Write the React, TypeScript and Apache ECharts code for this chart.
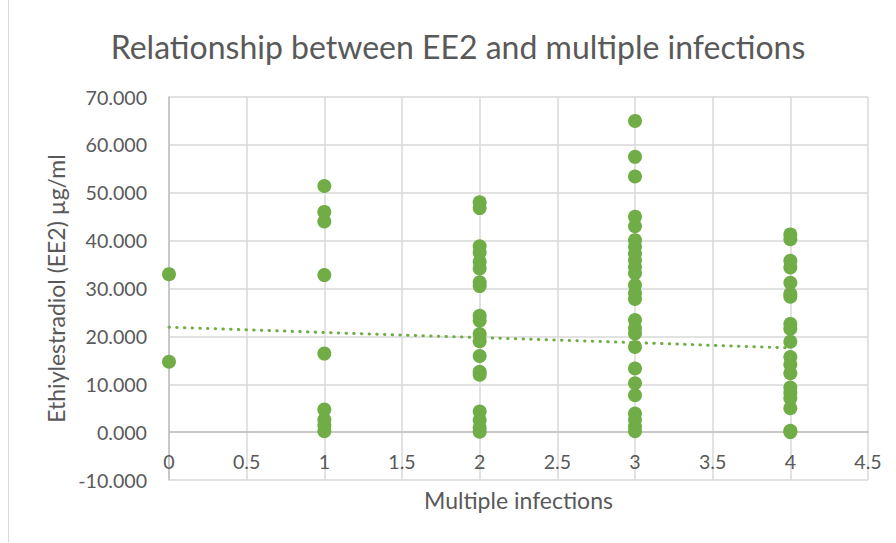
import React, { useEffect, useRef } from "react";
import * as echarts from "echarts";

const titleText = "Relationship between EE2 and multiple infections";
const xAxisName = "Multiple infections";
const yAxisName = "Ethiylestradiol (EE2) µg/ml";

const infections = [0, 1, 2, 3, 4];
const ee2At0 = [33.0, 14.7];
const ee2At1 = [51.4, 46.0, 44.0, 32.8, 16.4, 4.7, 2.6, 1.4, 0.2];
const ee2At2 = [48.0, 46.8, 38.8, 37.5, 35.6, 34.2, 31.3, 30.5, 24.3, 23.3, 20.5, 19.0, 15.9, 12.6, 12.0, 4.3, 2.5, 0.9, 0.1];
const ee2At3 = [65.0, 57.5, 53.4, 45.0, 43.0, 40.1, 38.7, 37.3, 35.9, 34.5, 33.2, 30.7, 29.0, 27.8, 23.4, 21.7, 20.6, 17.8, 13.3, 10.2, 7.7, 3.9, 2.6, 1.2, 0.2];
const ee2At4 = [41.3, 40.3, 35.8, 34.4, 31.2, 28.9, 28.3, 22.6, 21.6, 18.9, 15.7, 14.1, 12.3, 9.3, 8.2, 7.1, 5.0, 0.3, 0.0];
const ee2Groups = [ee2At0, ee2At1, ee2At2, ee2At3, ee2At4];

const trendX = [0, 4];
const trendY = [21.9, 17.6];

const GREEN = "#70AD47";
const TEXT = "#595959";
const FONT = "Lato";

export default function App() {
  const ref = useRef<HTMLDivElement>(null);
  useEffect(() => {
    if (!ref.current) return;
    const chart = echarts.init(ref.current, null, { renderer: "svg" });
    const points: number[][] = [];
    ee2Groups.forEach((g, i) => g.forEach((v) => points.push([infections[i], v])));
    const trend = trendX.map((x, i) => [x, trendY[i]]);
    chart.setOption({
      animation: false,
      backgroundColor: "#ffffff",
      textStyle: { fontFamily: FONT },
      graphic: [
        {
          type: "text",
          x: 458,
          y: 46,
          style: {
            text: titleText,
            fill: TEXT,
            font: `32px ${FONT}`,
            textAlign: "center",
            textVerticalAlign: "middle",
          },
        },
        {
          type: "line",
          shape: { x1: 8.5, y1: 0, x2: 8.5, y2: 542 },
          style: { stroke: "#d9d9d9", lineWidth: 1 },
        },
      ],
      grid: {
        left: 169,
        right: 28,
        top: 97,
        bottom: 63,
        containLabel: false,
        outerBoundsMode: "none",
      },
      xAxis: {
        type: "value",
        min: 0,
        max: 4.5,
        interval: 0.5,
        name: xAxisName,
        nameLocation: "middle",
        nameGap: 8,
        nameTextStyle: { color: TEXT, fontSize: 23, fontFamily: FONT },
        axisLine: { show: true, onZero: true, lineStyle: { color: "#bfbfbf", width: 1.5 } },
        axisTick: { show: false },
        axisLabel: {
          color: TEXT,
          fontSize: 19.6,
          fontFamily: FONT,
          margin: -29,
          formatter: (v: number) => String(v),
        },
        splitLine: { show: true, lineStyle: { color: "#d9d9d9", width: 1.5 } },
      },
      yAxis: {
        type: "value",
        min: -10,
        max: 70,
        interval: 10,
        name: yAxisName,
        nameLocation: "middle",
        nameGap: 101,
        nameTextStyle: { color: TEXT, fontSize: 23, fontFamily: FONT },
        axisLine: { show: true, lineStyle: { color: "#bfbfbf", width: 1.5 } },
        axisTick: { show: false },
        axisLabel: {
          color: TEXT,
          fontSize: 19.6,
          fontFamily: FONT,
          margin: 22,
          formatter: (v: number) => v.toFixed(3),
        },
        splitLine: { show: true, lineStyle: { color: "#d9d9d9", width: 1.5 } },
      },
      series: [
        {
          type: "scatter",
          data: points,
          symbol: "circle",
          symbolSize: 14,
          itemStyle: { color: GREEN, opacity: 1 },
          z: 3,
        },
        {
          type: "line",
          data: trend,
          symbol: "none",
          lineStyle: { color: GREEN, width: 3, type: [0.5, 7.2], cap: "round" },
          z: 4,
        },
      ],
    });
    return () => chart.dispose();
  }, []);
  return (
    <div
      ref={ref}
      style={{ position: "absolute", left: 0, top: 0, width: 896, height: 543 }}
    />
  );
}
